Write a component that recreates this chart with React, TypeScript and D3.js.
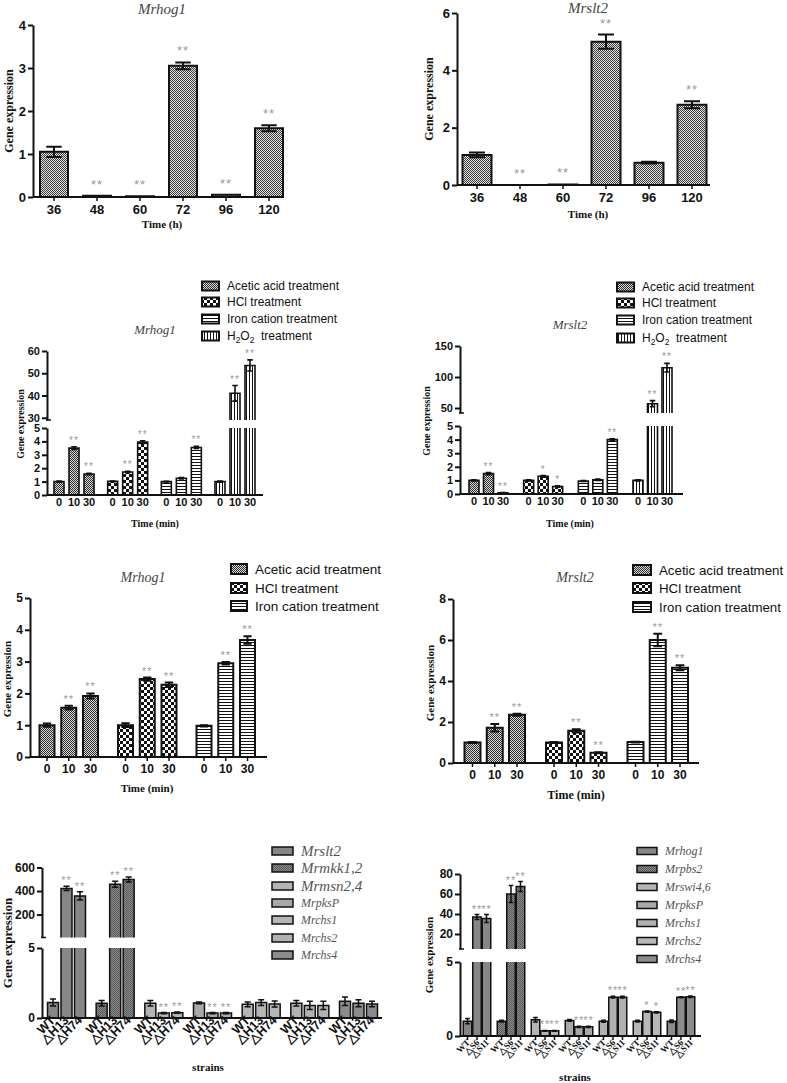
import React, { useEffect, useRef } from "react";
import * as d3 from "d3";

// time course, hours
const timeLabels = ["36", "48", "60", "72", "96", "120"];
const hogTime = [1.05, 0.03, 0.02, 3.05, 0.05, 1.6];
const hogTimeErr = [0.12, 0, 0, 0.08, 0, 0.07];
const hogTimeSig = ["", "**", "**", "**", "**", "**"];
const sltTime = [1.05, 0, 0.02, 5.0, 0.78, 2.8];
const sltTimeErr = [0.08, 0, 0, 0.25, 0.03, 0.12];
const sltTimeSig = ["", "**", "**", "**", "", "**"];

// stress treatments, minutes
const minuteLabels = ["0", "10", "30"];
const treatments = ["Acetic acid treatment", "HCl treatment", "Iron cation treatment", "H2O2 treatment"];
const hogStress = [[1.0, 3.5, 1.57], [1.02, 1.72, 3.95], [1.0, 1.25, 3.55], [1.0, 41, 53.5]];
const hogStressErr = [[0.04, 0.1, 0.05], [0.03, 0.05, 0.1], [0.03, 0.05, 0.08], [0.04, 3.5, 2.5]];
const hogStressSig = [["", "**", "**"], ["", "**", "**"], ["", "", "**"], ["", "**", "**"]];
const sltStress = [[1.0, 1.5, 0.08], [1.0, 1.3, 0.55], [0.95, 1.05, 4.0], [1.0, 57, 115]];
const sltStressErr = [[0.04, 0.08, 0.02], [0.04, 0.06, 0.05], [0.03, 0.05, 0.05], [0.04, 5, 7]];
const sltStressSig = [["", "**", "**"], ["", "*", "*"], ["", "", "**"], ["", "**", "**"]];

// three treatments only
const hogStress3 = [[1.0, 1.55, 1.92], [1.0, 2.45, 2.27], [0.98, 2.95, 3.68]];
const hogStress3Err = [[0.05, 0.06, 0.08], [0.06, 0.05, 0.07], [0.02, 0.04, 0.12]];
const hogStress3Sig = [["", "**", "**"], ["", "**", "**"], ["", "**", "**"]];
const sltStress3 = [[1.0, 1.72, 2.35], [1.0, 1.57, 0.5], [1.02, 6.0, 4.65]];
const sltStress3Err = [[0.02, 0.18, 0.05], [0.03, 0.08, 0.03], [0.02, 0.3, 0.12]];
const sltStress3Sig = [["", "**", "**"], ["", "**", "**"], ["", "**", "**"]];

// mutant strains
const genesH = ["Mrslt2", "Mrmkk1,2", "Mrmsn2,4", "MrpksP", "Mrchs1", "Mrchs2", "Mrchs4"];
const strainsH = ["WT", "△H13", "△H74"];
const exprH = [[1.1, 422, 358], [1.05, 458, 498], [1.05, 0.35, 0.38], [1.08, 0.35, 0.35], [0.98, 1.1, 1.0], [1.05, 0.9, 0.9], [1.2, 1.05, 1.0]];
const errH = [[0.25, 18, 35], [0.2, 25, 22], [0.2, 0.04, 0.04], [0.06, 0.04, 0.04], [0.17, 0.2, 0.22], [0.2, 0.3, 0.3], [0.3, 0.25, 0.2]];
const sigH = [["", "**", "**"], ["", "**", "**"], ["", "**", "**"], ["", "**", "**"], ["", "", ""], ["", "", ""], ["", "", ""]];

const genesS = ["Mrhog1", "Mrpbs2", "Mrswi4,6", "MrpksP", "Mrchs1", "Mrchs2", "Mrchs4"];
const strainsS = ["WT", "△S6", "△S11"];
const exprS = [[1.0, 37, 35.5], [1.0, 60, 67.5], [1.1, 0.35, 0.35], [1.05, 0.62, 0.62], [1.0, 2.62, 2.62], [1.0, 1.65, 1.6], [1.0, 2.62, 2.65]];
const errS = [[0.18, 2.5, 4], [0.06, 8.5, 5], [0.15, 0.03, 0.03], [0.06, 0.04, 0.04], [0.07, 0.06, 0.06], [0.06, 0.04, 0.04], [0.08, 0.04, 0.05]];
const sigS = [["", "**", "**"], ["", "**", "**"], ["", "**", "**"], ["", "**", "**"], ["", "**", "**"], ["", "*", "*"], ["", "**", "**"]];

const SANS = "'Liberation Sans', Arial, sans-serif";
const SERIF = "'Liberation Serif', 'Times New Roman', serif";
const INK = "#111";
const STAR = "#9a9a9a";

const treatmentFills = ["url(#pAce)", "url(#pHcl)", "url(#pIron)", "url(#pH2o2)"];
const geneFillsH = ["#868686", "url(#pDark)", "#b4b4b4", "#a9a9a9", "#b6b6b6", "#b2b2b2", "#8c8c8c"];
const geneFillsS = ["#868686", "url(#pDark)", "#b4b4b4", "#a9a9a9", "#b0b0b0", "#b8b8b8", "#8c8c8c"];

type Seg = { domain: [number, number]; range: [number, number]; ticks: number[] };
type Bar = { x: number; v: number; e: number; fill: string; sig: string };

const segScale = (s: Seg) => d3.scaleLinear().domain(s.domain).range(s.range);

function yOf(segs: Seg[], v: number) {
  for (let i = segs.length - 1; i > 0; i--) {
    if (v >= segs[i].domain[0]) return segScale(segs[i])(v);
  }
  return segScale(segs[0])(v);
}

function drawYAxis(svg: any, x: number, segs: Seg[], fs: number) {
  segs.forEach((s, i) => {
    const g = svg.append("g").attr("transform", `translate(${x},0)`)
      .call(d3.axisLeft(segScale(s)).tickValues(s.ticks).tickSize(5).tickSizeOuter(0).tickPadding(2).tickFormat(d3.format("d")));
    g.select(".domain").attr("stroke", INK).attr("stroke-width", 2);
    g.selectAll(".tick line").attr("stroke", INK).attr("stroke-width", 2);
    g.selectAll("text").attr("font-family", SANS).attr("font-weight", "bold")
      .attr("font-size", fs).attr("fill", INK);
    if (i > 0) {
      g.append("line").attr("x1", -1).attr("x2", 4).attr("y1", s.range[0]).attr("y2", s.range[0])
        .attr("stroke", INK).attr("stroke-width", 1.5);
    }
  });
}

function drawXAxis(svg: any, y: number, x0: number, x1: number, ticks: { x: number; label: string }[],
  fs: number, opts: { rotate?: boolean; serif?: boolean; tick?: number } = {}) {
  const g = svg.append("g");
  g.append("line").attr("x1", x0).attr("x2", x1).attr("y1", y).attr("y2", y)
    .attr("stroke", INK).attr("stroke-width", 2);
  const tl = opts.tick ?? 4;
  ticks.forEach(t => {
    g.append("line").attr("x1", t.x).attr("x2", t.x).attr("y1", y).attr("y2", y + tl)
      .attr("stroke", INK).attr("stroke-width", 1.5);
    const txt = g.append("text").attr("font-family", opts.serif ? SERIF : SANS)
      .attr("font-weight", "bold").attr("font-size", fs).attr("fill", INK).text(t.label);
    if (opts.rotate) {
      txt.attr("text-anchor", "end")
        .attr("transform", `translate(${t.x + 3},${y + tl + 3}) rotate(-45)`);
    } else {
      txt.attr("text-anchor", "middle").attr("x", t.x).attr("y", y + tl + 3 + fs * 0.75);
    }
  });
}

function drawBars(svg: any, segs: Seg[], bars: Bar[], w: number, sw: number, starFs: number, starGap: number) {
  const g = svg.append("g");
  bars.forEach(b => {
    segs.forEach((s, i) => {
      const lo = s.domain[0], hi = s.domain[1];
      if (i > 0 && b.v <= lo) return;
      const sc = segScale(s);
      const top = Math.min(b.v, hi);
      const yb = sc(lo), yt = sc(top);
      const l = b.x - w / 2, r = b.x + w / 2;
      g.append("rect").attr("x", l).attr("y", yt).attr("width", w).attr("height", Math.max(0, yb - yt))
        .attr("fill", b.fill);
      const cut = b.v > hi;
      const d = `M${l},${yb}L${l},${yt}` + (cut ? `M${r},${yt}` : `L${r},${yt}`) + `L${r},${yb}`;
      g.append("path").attr("d", d).attr("fill", "none").attr("stroke", INK).attr("stroke-width", sw);
    });
    if (b.e > 0) {
      const y1 = yOf(segs, b.v + b.e), y2 = yOf(segs, Math.max(0, b.v - b.e));
      const cw = w * 0.55;
      g.append("path")
        .attr("d", `M${b.x},${y1}L${b.x},${y2}M${b.x - cw / 2},${y1}L${b.x + cw / 2},${y1}M${b.x - cw / 2},${y2}L${b.x + cw / 2},${y2}`)
        .attr("stroke", INK).attr("stroke-width", sw).attr("fill", "none");
    }
    if (b.sig) {
      g.append("text").attr("x", b.x).attr("y", yOf(segs, b.v + b.e) - starGap)
        .attr("text-anchor", "middle").attr("font-family", SANS).attr("font-size", starFs)
        .attr("letter-spacing", 1).attr("fill", STAR).text(b.sig);
    }
  });
}

function label(svg: any, x: number, y: number, text: string, fs: number, o: { italic?: boolean; bold?: boolean; rotate?: boolean; fill?: string; family?: string } = {}) {
  const t = svg.append("text").attr("text-anchor", "middle").attr("font-family", o.family ?? SERIF)
    .attr("font-size", fs).attr("fill", o.fill ?? INK)
    .attr("font-weight", o.bold ? "bold" : "normal").attr("font-style", o.italic ? "italic" : "normal").text(text);
  if (o.rotate) t.attr("transform", `translate(${x},${y}) rotate(-90)`);
  else t.attr("x", x).attr("y", y);
  return t;
}

function legend(svg: any, x: number, ys: number[], names: string[], fills: string[], bw: number, bh: number,
  fs: number, o: { italic?: boolean; serif?: boolean; sizes?: number[]; color?: string; sw?: number; gap?: number } = {}) {
  names.forEach((n, i) => {
    const y = ys[i];
    svg.append("rect").attr("x", x).attr("y", y - bh / 2).attr("width", bw).attr("height", bh)
      .attr("fill", fills[i]).attr("stroke", INK).attr("stroke-width", o.sw ?? 2);
    const size = o.sizes ? o.sizes[i] : fs;
    const t = svg.append("text").attr("x", x + bw + (o.gap ?? 8)).attr("y", y + size * 0.35)
      .attr("font-family", o.serif ? SERIF : SANS).attr("font-size", size)
      .attr("font-style", o.italic ? "italic" : "normal").attr("fill", o.color ?? INK);
    if (n.startsWith("H2O2")) {
      t.append("tspan").text("H");
      t.append("tspan").attr("font-size", size * 0.7).attr("dy", 3).text("2");
      t.append("tspan").attr("dy", -3).text("O");
      t.append("tspan").attr("font-size", size * 0.7).attr("dy", 3).text("2");
      t.append("tspan").attr("dy", -3).text("\u00a0 treatment");
    } else t.text(n);
  });
}

function groupedBars(values: number[][], errs: number[][], sigs: string[][], fills: string[],
  gx: any, ix: any, groups: string[], items: string[]) {
  const bars: Bar[] = [];
  const ticks: { x: number; label: string }[] = [];
  groups.forEach((gname, gi) => {
    items.forEach((iname, ii) => {
      const x = gx(gname) + ix(iname);
      bars.push({ x, v: values[gi][ii], e: errs[gi][ii], fill: fills[gi], sig: sigs[gi][ii] });
      ticks.push({ x, label: iname });
    });
  });
  return { bars, ticks };
}

export default function App() {
  const ref = useRef<SVGSVGElement>(null);

  useEffect(() => {
    const svg = d3.select(ref.current);
    svg.selectAll("*").remove();

    // patterns
    const defs = svg.append("defs");
    const pat = (id: string, w: number, h: number, bg: string, cells: [number, number, number, number, string][]) => {
      const p = defs.append("pattern").attr("id", id).attr("patternUnits", "userSpaceOnUse")
        .attr("width", w).attr("height", h);
      p.append("rect").attr("width", w).attr("height", h).attr("fill", bg);
      cells.forEach(c => p.append("rect").attr("x", c[0]).attr("y", c[1]).attr("width", c[2]).attr("height", c[3]).attr("fill", c[4]));
    };
    pat("pFine", 2, 2, "#e4e4e4", [[0, 0, 1, 1, "#3a3a3a"], [1, 1, 1, 1, "#3a3a3a"]]);
    pat("pAce", 2, 2, "#dcdcdc", [[0, 0, 1, 1, "#2a2a2a"], [1, 1, 1, 1, "#2a2a2a"]]);
    pat("pHcl", 6, 6, "#111", [[0, 0, 3, 3, "#fff"], [3, 3, 3, 3, "#fff"]]);
    pat("pIron", 3, 3, "#fff", [[0, 0, 3, 1, "#111"]]);
    pat("pH2o2", 3, 3, "#fff", [[0, 0, 1, 3, "#111"]]);
    pat("pDark", 2, 2, "#8a8a8a", [[0, 0, 1, 1, "#5a5a5a"], [1, 1, 1, 1, "#5a5a5a"]]);

    // ---- panel 1: Mrhog1 time course
    {
      const segs: Seg[] = [{ domain: [0, 4], range: [197, 25], ticks: [0, 1, 2, 3, 4] }];
      const x = d3.scalePoint().domain(timeLabels).range([54, 269]);
      const bars = timeLabels.map((t, i) => ({ x: x(t)!, v: hogTime[i], e: hogTimeErr[i], fill: "url(#pFine)", sig: hogTimeSig[i] }));
      drawBars(svg, segs, bars, 28, 2, 13, 7);
      drawYAxis(svg, 33, segs, 13);
      drawXAxis(svg, 197, 33, 284, timeLabels.map(t => ({ x: x(t)!, label: t })), 13);
      label(svg, 162, 14, "Mrhog1", 15, { italic: true, fill: "#444" });
      label(svg, 162, 228, "Time (h)", 11, { bold: true });
      label(svg, 13, 111, "Gene expression", 12, { bold: true, rotate: true });
    }

    // ---- panel 2: Mrslt2 time course
    {
      const segs: Seg[] = [{ domain: [0, 6], range: [185, 13], ticks: [0, 2, 4, 6] }];
      const x = d3.scalePoint().domain(timeLabels).range([477, 692]);
      const bars = timeLabels.map((t, i) => ({ x: x(t)!, v: sltTime[i], e: sltTimeErr[i], fill: "url(#pFine)", sig: sltTimeSig[i] }));
      drawBars(svg, segs, bars, 29, 2, 13, 7);
      drawYAxis(svg, 457, segs, 13);
      drawXAxis(svg, 185, 457, 710, timeLabels.map(t => ({ x: x(t)!, label: t })), 13);
      label(svg, 588, 13, "Mrslt2", 15, { italic: true, fill: "#444" });
      label(svg, 588, 218, "Time (h)", 11, { bold: true });
      label(svg, 433, 99, "Gene expression", 12, { bold: true, rotate: true });
    }

    // ---- panel 3: Mrhog1 four treatments, broken axis
    {
      const segs: Seg[] = [
        { domain: [0, 5], range: [495, 428], ticks: [0, 1, 2, 3, 4, 5] },
        { domain: [29, 60], range: [420, 351], ticks: [30, 40, 50, 60] },
      ];
      const gx = d3.scalePoint().domain(treatments).range([74, 235]);
      const ix = d3.scalePoint().domain(minuteLabels).range([-15, 15]);
      const { bars, ticks } = groupedBars(hogStress, hogStressErr, hogStressSig, treatmentFills, gx, ix, treatments, minuteLabels);
      drawBars(svg, segs, bars, 10, 1.6, 10, 3);
      drawYAxis(svg, 47, segs, 11);
      drawXAxis(svg, 495, 47, 263, ticks, 11, { tick: 0 });
      label(svg, 155, 334, "Mrhog1", 13, { italic: true, fill: "#444" });
      label(svg, 155, 527, "Time (min)", 10, { bold: true });
      label(svg, 24, 424, "Gene expression", 10, { bold: true, rotate: true });
      legend(svg, 202, [286, 302, 319, 336], treatments, treatmentFills, 17, 9, 12);
    }

    // ---- panel 4: Mrslt2 four treatments, broken axis
    {
      const segs: Seg[] = [
        { domain: [0, 5], range: [494, 426], ticks: [0, 1, 2, 3, 4, 5] },
        { domain: [42, 150], range: [413, 346], ticks: [50, 100, 150] },
      ];
      const gx = d3.scalePoint().domain(treatments).range([488.5, 652.5]);
      const ix = d3.scalePoint().domain(minuteLabels).range([-14.5, 14.5]);
      const { bars, ticks } = groupedBars(sltStress, sltStressErr, sltStressSig, treatmentFills, gx, ix, treatments, minuteLabels);
      drawBars(svg, segs, bars, 10, 1.6, 10, 3);
      drawYAxis(svg, 460, segs, 11);
      drawXAxis(svg, 494, 460, 683, ticks, 11, { tick: 0 });
      label(svg, 570, 329, "Mrslt2", 13, { italic: true, fill: "#444" });
      label(svg, 570, 527, "Time (min)", 10, { bold: true });
      label(svg, 430, 421, "Gene expression", 10, { bold: true, rotate: true });
      legend(svg, 617, [287, 303, 320, 338], treatments, treatmentFills, 17, 9, 12);
    }

    // ---- panel 5: Mrhog1 three treatments
    {
      const t3 = treatments.slice(0, 3);
      const segs: Seg[] = [{ domain: [0, 5], range: [757, 598], ticks: [0, 1, 2, 3, 4, 5] }];
      const gx = d3.scalePoint().domain(t3).range([69, 226]);
      const ix = d3.scalePoint().domain(minuteLabels).range([-22, 21.5]);
      const { bars, ticks } = groupedBars(hogStress3, hogStress3Err, hogStress3Sig, treatmentFills, gx, ix, t3, minuteLabels);
      drawBars(svg, segs, bars, 15, 2, 11, 3);
      drawYAxis(svg, 30, segs, 12);
      drawXAxis(svg, 757, 30, 267, ticks, 12);
      label(svg, 143, 582, "Mrhog1", 14, { italic: true, fill: "#444" });
      label(svg, 147, 792, "Time (min)", 11, { bold: true });
      label(svg, 11, 679, "Gene expression", 11, { bold: true, rotate: true });
      legend(svg, 231, [569, 588, 606], t3, treatmentFills, 16, 10, 13.5);
    }

    // ---- panel 6: Mrslt2 three treatments
    {
      const t3 = treatments.slice(0, 3);
      const segs: Seg[] = [{ domain: [0, 8], range: [763, 599], ticks: [0, 2, 4, 6, 8] }];
      const gx = d3.scalePoint().domain(t3).range([495, 658]);
      const ix = d3.scalePoint().domain(minuteLabels).range([-22.5, 22]);
      const { bars, ticks } = groupedBars(sltStress3, sltStress3Err, sltStress3Sig, treatmentFills, gx, ix, t3, minuteLabels);
      drawBars(svg, segs, bars, 16, 2, 11, 3);
      drawYAxis(svg, 453, segs, 12);
      drawXAxis(svg, 763, 453, 699, ticks, 12);
      label(svg, 575, 582, "Mrslt2", 14, { italic: true, fill: "#444" });
      label(svg, 576, 799, "Time (min)", 12, { bold: true });
      label(svg, 434, 683, "Gene expression", 11, { bold: true, rotate: true });
      legend(svg, 633, [570, 588, 607], t3, treatmentFills, 18, 10, 13.3, { gap: 8 });
    }

    // ---- panel 7: H mutants
    {
      const segs: Seg[] = [
        { domain: [0, 5], range: [1018, 948], ticks: [0, 5] },
        { domain: [5, 600], range: [937.5, 867.5], ticks: [200, 400, 600] },
      ];
      const gx = d3.scalePoint().domain(genesH).range([66.5, 358.5]);
      const ix = d3.scalePoint().domain(strainsH).range([-13.5, 13.5]);
      const { bars, ticks } = groupedBars(exprH, errH, sigH, geneFillsH, gx, ix, genesH, strainsH);
      drawBars(svg, segs, bars, 11, 1.5, 11, 2);
      drawYAxis(svg, 42, segs, 12);
      drawXAxis(svg, 1018, 42, 382, ticks, 12.5, { rotate: true, tick: 0 });
      label(svg, 208, 1071, "strains", 11, { bold: true });
      label(svg, 12, 943, "Gene expression", 13, { bold: true, rotate: true });
      legend(svg, 272, [851, 868, 886, 903, 920, 938, 955], genesH, geneFillsH, 21, 8, 12,
        { italic: true, serif: true, sizes: [15, 15, 15, 12, 12, 12, 12], color: "#555", sw: 1.5 });
    }

    // ---- panel 8: S mutants
    {
      const segs: Seg[] = [
        { domain: [0, 5], range: [1036, 962], ticks: [0, 5] },
        { domain: [5, 80], range: [949, 874], ticks: [20, 40, 60, 80] },
      ];
      const gx = d3.scalePoint().domain(genesS).range([477, 681]);
      const ix = d3.scalePoint().domain(strainsS).range([-9.5, 9.5]);
      const { bars, ticks } = groupedBars(exprS, errS, sigS, geneFillsS, gx, ix, genesS, strainsS);
      drawBars(svg, segs, bars, 8.5, 1.5, 11, 2);
      drawYAxis(svg, 460, segs, 12);
      drawXAxis(svg, 1036, 460, 701, ticks, 9, { rotate: true, serif: true, tick: 4 });
      label(svg, 575, 1081, "strains", 11, { bold: true });
      label(svg, 433, 955, "Gene expression", 11, { bold: true, rotate: true });
      legend(svg, 637, [851, 869, 887, 905, 923, 941, 959], genesS, geneFillsS, 20, 7, 12,
        { italic: true, serif: true, color: "#555", sw: 1.5 });
    }
  }, []);

  return (
    <svg ref={ref} width={787} height={1083}
      style={{ position: "absolute", left: 0, top: 0, background: "#fff" }} />
  );
}
